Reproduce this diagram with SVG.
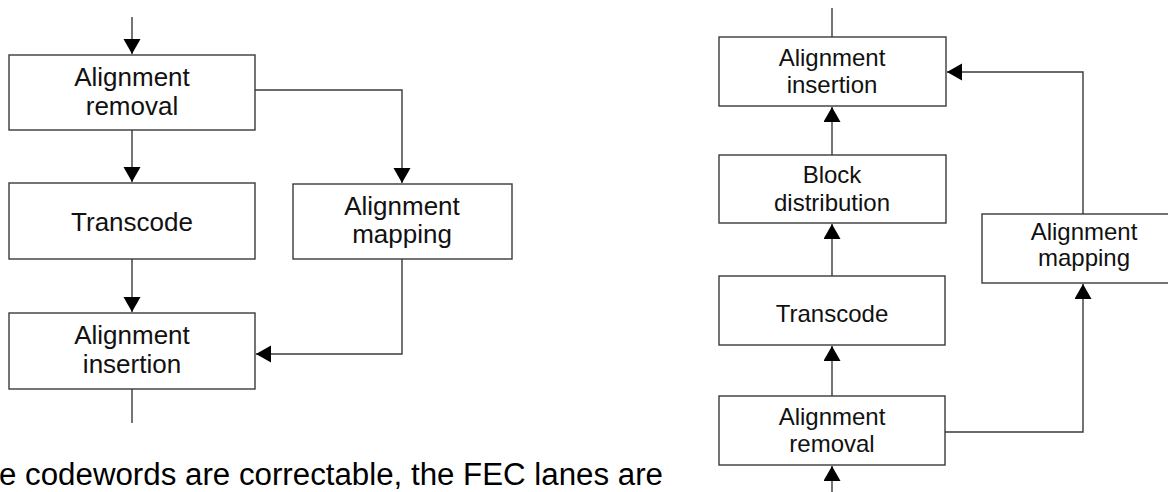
<svg xmlns="http://www.w3.org/2000/svg" width="1168" height="492" viewBox="0 0 1168 492">
  <style>
    .box { fill: #ffffff; stroke: #3a3a3a; stroke-width: 1.4; }
    .wire { fill: none; stroke: #3a3a3a; stroke-width: 1.4; }
    .lbl { font-family: "Liberation Sans", Arial, sans-serif; fill: #111111; text-anchor: middle; }
    .lblL { font-size: 26px; }
    .lblR { font-size: 24px; }
    .body { font-family: "Liberation Sans", Arial, sans-serif; font-size: 31px; fill: #000000; }
  </style>
  <defs>
    <marker id="head" markerUnits="userSpaceOnUse" markerWidth="16" markerHeight="18" refX="15" refY="8.5" orient="auto">
      <path d="M0,0 L15,8.5 L0,17 Z" fill="#000000"/>
    </marker>
  </defs>
  <rect width="1168" height="492" fill="#ffffff"/>

  <!-- connectors -->
  <g id="connectors">
    <!-- receive-side chain (left) -->
    <path class="wire" d="M132,17 V54" marker-end="url(#head)"/>
    <path class="wire" d="M132,130 V182" marker-end="url(#head)"/>
    <path class="wire" d="M255,90 H402 V183" marker-end="url(#head)"/>
    <path class="wire" d="M132,259 V312" marker-end="url(#head)"/>
    <path class="wire" d="M402,259 V354 H256" marker-end="url(#head)"/>
    <path class="wire" d="M132,389 V423"/>
    <!-- transmit-side chain (right) -->
    <path class="wire" d="M832,8 V37"/>
    <path class="wire" d="M832,155 V107" marker-end="url(#head)"/>
    <path class="wire" d="M832,276 V224" marker-end="url(#head)"/>
    <path class="wire" d="M832,396 V346" marker-end="url(#head)"/>
    <path class="wire" d="M832,492 V466" marker-end="url(#head)"/>
    <path class="wire" d="M945,432 H1083 V284" marker-end="url(#head)"/>
    <path class="wire" d="M1083,214 V72 H947" marker-end="url(#head)"/>
  </g>

  <!-- left chain nodes -->
  <g id="l-removal">
    <rect class="box" x="9" y="55" width="246" height="75"/>
    <text class="lbl lblL" x="132" y="86">Alignment</text>
    <text class="lbl lblL" x="132" y="115">removal</text>
  </g>
  <g id="l-transcode">
    <rect class="box" x="9" y="183" width="246" height="76"/>
    <text class="lbl lblL" x="132" y="231">Transcode</text>
  </g>
  <g id="l-mapping">
    <rect class="box" x="293" y="184" width="219" height="75"/>
    <text class="lbl lblL" x="402" y="215">Alignment</text>
    <text class="lbl lblL" x="402" y="243">mapping</text>
  </g>
  <g id="l-insertion">
    <rect class="box" x="9" y="313" width="246" height="76"/>
    <text class="lbl lblL" x="132" y="344">Alignment</text>
    <text class="lbl lblL" x="132" y="373">insertion</text>
  </g>

  <!-- right chain nodes -->
  <g id="r-insertion">
    <rect class="box" x="719" y="37" width="227" height="69"/>
    <text class="lbl lblR" x="832" y="66">Alignment</text>
    <text class="lbl lblR" x="832" y="93">insertion</text>
  </g>
  <g id="r-distribution">
    <rect class="box" x="719" y="155" width="227" height="68"/>
    <text class="lbl lblR" x="832" y="183">Block</text>
    <text class="lbl lblR" x="832" y="211">distribution</text>
  </g>
  <g id="r-mapping">
    <rect class="box" x="982" y="214" width="190" height="69"/>
    <text class="lbl lblR" x="1084" y="240">Alignment</text>
    <text class="lbl lblR" x="1084" y="266">mapping</text>
  </g>
  <g id="r-transcode">
    <rect class="box" x="719" y="276" width="226" height="69"/>
    <text class="lbl lblR" x="832" y="322">Transcode</text>
  </g>
  <g id="r-removal">
    <rect class="box" x="719" y="396" width="226" height="69"/>
    <text class="lbl lblR" x="832" y="425">Alignment</text>
    <text class="lbl lblR" x="832" y="452">removal</text>
  </g>

  <!-- running text below the left chain -->
  <text class="body" x="-1" y="485" textLength="664" lengthAdjust="spacingAndGlyphs">e codewords are correctable, the FEC lanes are</text>
</svg>
